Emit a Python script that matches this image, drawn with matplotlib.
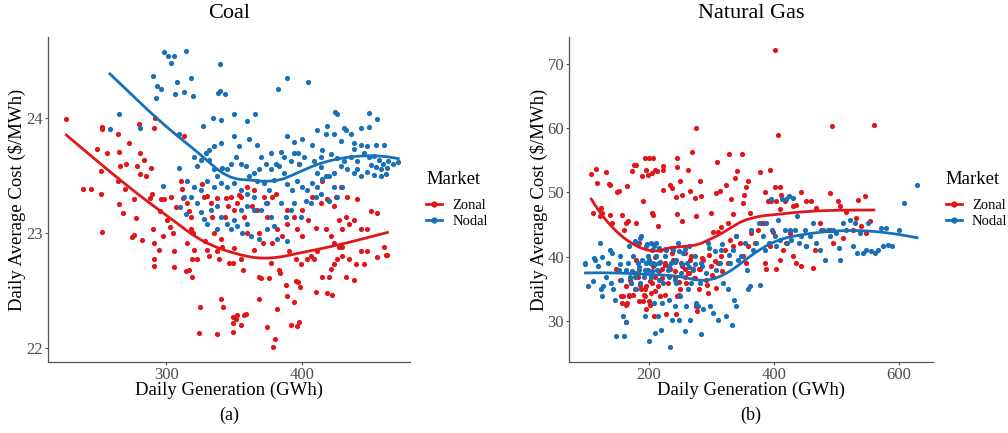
import matplotlib
matplotlib.use("Agg")
import matplotlib.pyplot as plt
from matplotlib.lines import Line2D
import numpy as np

# (GWh, $/MWh) points, per panel and market
coal_zonal = [
    (226.5, 23.99), (252.4, 23.90), (253.0, 23.92), (249.0, 23.73), (256.6, 23.69),
    (238.5, 23.38), (244.4, 23.38), (252.0, 23.34), (251.7, 23.54), (253.0, 23.01),
    (265.4, 23.70), (264.4, 23.86), (272.5, 23.78), (279.9, 23.94), (290.9, 23.91),
    (291.7, 24.00), (270.0, 23.60), (265.6, 23.58), (264.4, 23.45), (269.4, 23.38),
    (265.4, 23.25), (267.9, 23.17), (276.2, 23.29), (281.0, 23.51), (283.6, 23.63),
    (280.6, 23.69), (278.7, 23.58), (285.3, 23.49), (289.0, 23.56), (289.7, 23.34),
    (288.0, 23.30), (277.5, 23.13), (276.5, 22.98), (274.8, 22.96), (282.4, 22.94),
    (290.4, 23.03), (290.9, 22.91), (290.9, 22.77), (290.9, 22.71), (295.8, 23.29),
    (298.3, 23.29), (297.3, 22.97), (294.9, 22.85), (295.3, 23.19), (300.7, 23.11),
    (302.7, 23.05), (305.2, 23.00), (305.6, 22.84), (303.2, 23.31), (306.9, 23.22),
    (310.5, 23.45), (311.7, 23.38), (313.0, 23.84), (312.5, 23.30), (315.4, 23.26),
    (316.7, 23.19), (318.4, 23.14), (318.0, 23.03), (319.6, 23.00), (315.4, 22.91),
    (320.3, 22.85), (319.1, 22.77), (316.7, 22.68), (314.2, 22.67), (318.6, 22.62),
    (305.6, 22.70), (322.8, 22.77), (324.8, 22.36), (324.3, 22.13), (327.7, 23.31),
    (326.5, 23.42), (328.4, 22.93), (329.7, 22.85), (331.4, 22.80), (332.6, 23.26),
    (333.8, 23.14), (335.0, 23.00), (337.5, 22.84), (338.7, 22.77), (339.9, 22.95),
    (341.2, 22.88), (339.9, 22.43), (341.7, 22.36), (337.0, 22.12), (342.9, 23.14),
    (343.6, 23.30), (347.3, 23.31), (345.3, 23.23), (350.0, 23.20), (350.0, 22.87),
    (346.1, 22.74), (349.3, 22.74), (354.7, 22.77), (356.6, 22.68), (349.0, 22.27),
    (351.0, 22.25), (352.2, 22.29), (349.3, 22.22), (354.7, 22.20), (349.3, 22.14),
    (357.4, 22.29), (358.9, 22.30), (352.2, 23.26), (353.4, 23.33), (357.1, 23.14),
    (359.6, 23.00), (363.2, 23.23), (364.5, 22.85), (368.1, 22.62), (369.9, 22.61),
    (367.9, 22.43), (374.3, 22.18), (375.5, 22.61), (377.2, 22.74), (377.9, 22.91),
    (379.7, 22.08), (378.7, 22.01), (381.6, 22.34), (382.8, 22.68), (383.6, 22.65),
    (388.0, 22.55), (389.0, 22.45), (390.2, 22.84), (391.4, 22.20), (395.8, 22.19),
    (397.5, 22.23), (393.9, 22.40), (395.0, 22.58), (396.8, 22.57), (398.3, 22.53),
    (395.0, 22.77), (398.8, 22.73), (400.0, 22.97), (403.2, 22.77), (406.1, 22.80),
    (408.6, 22.77), (409.8, 22.49), (411.0, 22.84), (414.7, 22.62), (418.4, 22.48),
    (419.6, 22.62), (422.0, 22.46), (420.8, 22.69), (423.3, 22.73), (425.7, 22.77),
    (426.9, 22.88), (429.4, 22.80), (431.9, 22.62), (434.3, 22.77), (438.0, 22.59),
    (439.2, 22.73), (442.9, 22.84), (445.3, 22.73), (447.8, 22.84), (455.1, 22.79),
    (461.2, 22.81), (377.9, 23.31), (389.0, 23.20), (393.9, 23.14), (404.0, 23.11),
    (407.4, 23.31), (409.8, 23.04), (413.5, 23.26), (414.7, 23.45), (417.2, 23.03),
    (418.4, 23.29), (423.3, 23.23), (424.5, 23.31), (426.9, 23.11), (428.2, 23.40),
    (429.4, 23.03), (431.9, 23.14), (433.1, 23.31), (434.3, 23.08), (438.0, 23.11),
    (440.4, 23.29), (442.9, 23.03), (447.8, 23.03), (450.2, 23.19), (455.1, 23.17),
    (460.0, 22.88), (462.5, 22.81), (420.8, 22.97), (423.3, 22.91), (429.4, 22.88),
    (330.1, 23.32), (337.5, 23.30), (354.7, 23.31), (359.6, 23.40), (364.5, 23.37),
    (371.8, 23.31), (374.3, 23.26), (366.9, 23.20), (374.3, 23.14), (380.6, 23.34),
    (368.4, 23.00), (370.8, 22.91), (381.6, 23.03), (389.0, 23.08), (385.3, 22.97),
    (396.1, 23.03), (400.0, 23.20), (397.5, 23.60),
]

coal_nodal = [
    (298.3, 24.57), (301.5, 24.53), (303.2, 24.47), (305.6, 24.53), (314.7, 24.58),
    (339.5, 24.46), (290.4, 24.36), (293.4, 24.27), (295.8, 24.25), (292.6, 24.17),
    (307.6, 24.31), (306.6, 24.20), (312.7, 24.22), (318.1, 24.34), (319.8, 24.19),
    (337.7, 24.21), (339.2, 24.23), (343.1, 24.20), (382.4, 24.25), (389.0, 24.34),
    (404.2, 24.31), (265.4, 24.03), (258.5, 23.90), (280.6, 23.91), (309.1, 23.86),
    (326.7, 23.93), (334.1, 24.00), (340.2, 23.98), (350.0, 24.03), (359.6, 23.97),
    (365.0, 24.03), (297.3, 23.41), (309.3, 23.56), (313.0, 23.31),
    (423.8, 24.05), (425.5, 24.03), (449.0, 24.04), (454.6, 23.99), (418.4, 23.93),
    (430.6, 23.91), (431.9, 23.89), (442.9, 23.91), (449.0, 23.92), (410.5, 23.89),
    (417.2, 23.86), (423.3, 23.86), (435.5, 23.86), (428.2, 23.80), (438.0, 23.78),
    (442.9, 23.76), (447.8, 23.75), (453.9, 23.76), (460.0, 23.76), (438.0, 23.73),
    (407.4, 23.76), (414.7, 23.72), (399.8, 23.81), (393.6, 23.79), (389.0, 23.84),
    (396.6, 23.69), (401.5, 23.66), (408.6, 23.62), (413.5, 23.66), (420.8, 23.68),
    (425.7, 23.65), (430.6, 23.62), (435.5, 23.66), (440.4, 23.62), (445.3, 23.69),
    (449.0, 23.66), (452.5, 23.67), (456.0, 23.63), (459.6, 23.60), (463.2, 23.62),
    (466.9, 23.60), (470.5, 23.61), (450.2, 23.59), (453.9, 23.57), (457.5, 23.55),
    (462.5, 23.56), (447.8, 23.53), (452.7, 23.50), (457.5, 23.49), (461.2, 23.51),
    (440.4, 23.55), (442.9, 23.49), (438.0, 23.52), (433.1, 23.55), (428.2, 23.58),
    (423.3, 23.52), (419.6, 23.49), (414.7, 23.47), (411.0, 23.52), (407.4, 23.43),
    (411.0, 23.40), (413.5, 23.34), (409.8, 23.31), (406.1, 23.26), (403.7, 23.37),
    (402.5, 23.28), (400.0, 23.40), (396.3, 23.45), (392.6, 23.37), (389.0, 23.42),
    (386.5, 23.52), (382.8, 23.58), (379.2, 23.46), (376.7, 23.55), (373.0, 23.60),
    (369.4, 23.66), (368.1, 23.55), (366.9, 23.45), (364.5, 23.52), (360.8, 23.49),
    (358.3, 23.58), (354.7, 23.60), (351.0, 23.66), (347.3, 23.60), (344.9, 23.55),
    (341.2, 23.56), (337.5, 23.49), (335.0, 23.55), (331.4, 23.63), (329.0, 23.69),
    (325.2, 23.63), (322.8, 23.58), (320.3, 23.66), (330.1, 23.45), (335.0, 23.40),
    (339.9, 23.43), (344.9, 23.40), (349.8, 23.43), (354.7, 23.37), (359.6, 23.34),
    (364.5, 23.31), (371.8, 23.43), (375.5, 23.37), (373.0, 23.26), (369.4, 23.20),
    (364.5, 23.20), (359.6, 23.23), (354.7, 23.20), (349.8, 23.11), (344.9, 23.08),
    (347.3, 23.03), (352.2, 23.06), (355.9, 23.00), (339.9, 23.14), (337.5, 23.23),
    (332.6, 23.20), (330.1, 23.08), (367.9, 22.95), (374.3, 23.03), (379.2, 23.06),
    (381.6, 22.95), (387.8, 23.14), (391.4, 23.20), (393.9, 23.26), (398.8, 23.14),
    (388.9, 22.93), (376.7, 23.14), (384.0, 23.26), (315.4, 23.45), (320.3, 23.40),
    (325.2, 23.37), (322.8, 23.26), (318.1, 23.31), (309.8, 23.22), (314.2, 23.16),
    (325.2, 23.18), (327.7, 23.12), (337.5, 23.03), (359.6, 23.08), (362.0, 22.97),
    (380.6, 23.60), (386.5, 23.66), (391.4, 23.62), (397.5, 23.60), (423.3, 23.40),
    (425.7, 23.31), (429.4, 23.40), (413.5, 23.57), (419.6, 23.28), (417.2, 23.49),
    (349.8, 23.84), (353.4, 23.75), (360.8, 23.81), (366.9, 23.76), (339.9, 23.78),
    (335.0, 23.75), (331.4, 23.72), (376.7, 23.69), (384.0, 23.70), (393.9, 23.69),
]

gas_zonal = [
    (108.2, 52.9), (115.1, 53.7), (116.7, 51.5), (110.8, 46.8), (124.2, 47.6),
    (125.8, 46.8), (121.5, 46.3), (132.2, 53.1), (135.9, 51.3), (137.5, 51.1),
    (137.5, 46.5), (141.8, 45.3), (149.3, 50.0), (152.0, 50.2), (165.3, 51.0),
    (157.8, 46.5), (160.0, 44.2), (163.2, 45.2), (166.4, 45.5), (179.2, 45.3),
    (173.9, 53.3), (176.6, 54.3), (179.2, 54.3), (189.9, 52.6), (196.3, 53.5),
    (194.2, 55.3), (200.1, 55.3), (207.0, 55.3), (198.3, 52.7), (204.7, 53.0),
    (210.0, 53.5), (212.7, 53.3), (222.4, 54.1), (223.5, 53.5), (190.9, 48.6),
    (204.7, 46.8), (207.4, 46.5), (214.3, 44.7), (223.5, 50.3), (234.2, 51.2),
    (236.9, 50.6), (244.9, 55.3), (244.9, 54.0), (250.2, 51.7), (252.9, 49.6),
    (244.3, 49.3), (244.9, 46.6), (252.9, 45.5), (269.0, 56.2), (262.7, 53.5),
    (265.9, 50.2), (274.8, 49.1), (276.3, 60.0), (281.7, 51.7), (284.3, 49.4),
    (276.3, 46.3), (300.4, 46.8), (308.4, 49.9), (313.7, 50.2), (309.4, 54.7),
    (323.3, 51.2), (328.1, 56.0), (332.4, 49.0), (335.1, 46.7), (327.1, 45.3),
    (316.4, 44.6), (303.0, 43.9), (311.1, 43.8), (337.7, 52.2), (341.5, 53.3),
    (350.0, 55.9), (351.1, 48.3), (356.4, 50.9), (359.1, 51.7), (352.1, 49.6),
    (361.8, 46.8), (378.9, 53.1), (385.8, 50.0), (383.2, 45.2), (395.0, 53.4),
    (401.8, 72.1), (407.2, 58.9), (403.0, 50.9), (409.8, 50.9), (391.1, 48.6),
    (396.4, 48.6), (404.4, 48.6), (412.5, 49.6), (417.8, 48.7), (409.8, 47.4),
    (431.2, 47.9), (436.5, 48.1), (444.5, 50.0), (451.5, 48.6), (460.5, 48.6),
    (467.5, 47.6), (494.2, 60.3), (490.0, 49.9), (503.8, 48.6), (535.3, 48.8),
    (546.0, 49.4), (560.4, 60.5), (553.9, 45.5), (548.5, 43.7), (532.6, 46.0),
    (516.6, 47.0), (505.9, 47.8), (490.0, 44.2), (474.0, 45.2),
    (148.2, 38.0), (153.6, 36.4), (158.9, 33.8), (163.2, 32.5), (163.2, 29.9),
    (168.5, 33.8), (172.3, 35.9), (177.6, 37.5), (180.3, 39.5), (184.5, 42.1),
    (188.3, 34.9), (190.9, 33.1), (193.6, 33.8), (196.3, 35.4), (201.6, 36.2),
    (204.3, 34.4), (207.0, 38.5), (209.7, 36.9), (212.3, 40.1), (215.0, 35.4),
    (217.6, 33.8), (221.9, 38.0), (225.6, 39.0), (228.3, 31.0), (231.0, 35.9),
    (233.6, 38.0), (239.0, 39.5), (241.6, 36.9), (245.9, 33.8), (244.4, 31.0),
    (249.7, 34.9), (252.3, 39.0), (257.7, 38.0), (260.3, 35.9), (263.0, 37.5),
    (265.7, 39.5), (268.3, 40.1), (271.0, 38.0), (273.7, 36.7), (276.3, 32.3),
    (280.1, 34.9), (281.7, 38.0), (287.0, 39.5), (291.3, 36.4), (295.0, 34.4),
    (300.4, 38.5), (303.0, 36.9), (308.4, 35.1), (311.1, 39.0), (316.4, 40.1),
    (321.7, 41.1), (327.1, 39.0), (329.7, 42.6), (335.1, 41.6), (340.4, 43.2),
    (345.8, 42.1), (351.1, 40.1), (356.4, 39.0), (359.1, 41.6), (364.4, 43.7),
    (369.8, 42.1), (375.1, 44.2), (380.4, 45.2), (385.8, 39.0), (388.5, 38.0),
    (393.8, 41.6), (399.1, 43.9), (404.4, 38.0), (409.8, 39.5), (415.2, 41.1),
    (420.5, 42.1), (425.8, 43.7), (431.2, 40.1), (436.5, 39.0), (444.5, 38.5),
    (452.5, 41.6), (463.2, 38.2), (465.8, 41.1), (479.2, 44.2), (495.2, 42.1),
    (511.2, 42.9), (527.3, 44.2), (540.6, 44.7), (182.9, 36.9), (174.9, 34.1),
    (196.3, 31.8), (208.6, 30.7), (164.2, 35.4), (156.2, 33.8),
    (186.6, 35.6), (192.0, 34.1), (200.0, 33.1), (194.7, 34.9), (205.3, 35.9),
    (184.0, 33.1), (202.7, 32.5), (210.7, 34.6), (221.4, 36.7), (232.0, 38.2),
    (242.7, 37.7), (253.4, 38.5), (264.0, 37.4), (272.1, 36.7), (280.1, 38.0),
    (258.7, 36.9), (248.0, 36.1), (226.7, 38.7), (216.0, 37.7), (170.6, 36.4),
    (178.6, 34.9), (168.0, 34.1), (157.3, 32.8), (165.3, 32.8), (226.7, 34.1),
    (248.0, 34.1), (277.4, 31.5), (293.4, 35.6), (301.4, 37.1), (306.8, 39.3),
    (317.5, 37.7), (285.4, 39.8), (296.1, 40.3), (258.7, 40.6), (237.4, 40.6),
    (210.7, 40.0),
]

gas_nodal = [
    (98.6, 38.8), (102.8, 35.4), (110.8, 36.2), (113.5, 39.5), (118.8, 38.5),
    (121.5, 42.1), (124.2, 34.9), (125.8, 33.8), (126.9, 35.4), (132.2, 36.9),
    (134.9, 39.0), (137.5, 41.1), (140.2, 35.9), (142.9, 34.9), (145.5, 33.3),
    (148.2, 27.6), (152.5, 37.9), (154.6, 40.1), (156.2, 36.4), (158.9, 30.7),
    (160.0, 27.6), (163.2, 29.9), (164.2, 37.9), (166.9, 39.0), (168.5, 41.6),
    (169.6, 36.9), (172.3, 35.9), (174.9, 40.1), (177.6, 36.9), (180.3, 34.9),
    (181.3, 42.1), (182.9, 39.0), (184.5, 37.9), (185.6, 35.9), (188.3, 43.2),
    (189.9, 39.5), (192.0, 36.9), (193.6, 30.7), (195.2, 39.0), (196.3, 41.6),
    (198.3, 37.9), (199.5, 40.1), (200.5, 26.8), (201.6, 39.0), (203.2, 42.1),
    (204.3, 36.9), (205.9, 41.1), (207.0, 39.0), (208.6, 32.8), (209.7, 28.1),
    (211.2, 40.1), (212.3, 42.1), (213.9, 37.9), (215.0, 30.7), (216.6, 39.0),
    (217.7, 41.1), (220.4, 28.6), (221.9, 32.8), (223.1, 35.9), (225.6, 40.1),
    (228.3, 41.1), (231.0, 37.9), (232.6, 33.3), (234.7, 26.0), (236.3, 39.0),
    (237.9, 30.2), (239.0, 41.1), (241.6, 32.3), (243.2, 35.9), (244.4, 39.5),
    (247.0, 42.1), (248.6, 30.2), (249.7, 33.8), (252.3, 37.5), (255.0, 40.6),
    (257.7, 28.4), (259.3, 32.3), (261.4, 39.0), (263.0, 34.9), (264.6, 41.6),
    (266.7, 30.2), (268.3, 35.9), (271.0, 37.9), (273.7, 40.1), (276.3, 32.8),
    (279.0, 32.3), (281.7, 35.9), (283.3, 27.9), (284.3, 39.0), (287.0, 31.8),
    (291.3, 37.5), (295.0, 42.1), (298.8, 32.3), (303.0, 31.2), (307.3, 37.9),
    (311.1, 30.2), (313.7, 39.0), (316.4, 41.1), (319.1, 35.9), (324.4, 30.7),
    (327.1, 34.9), (329.7, 39.0), (333.9, 29.4), (336.7, 33.3), (339.3, 32.3),
    (335.1, 41.1), (340.4, 43.2), (343.1, 39.5), (348.4, 40.1), (353.8, 42.1),
    (357.5, 37.9), (359.1, 34.9), (362.8, 35.4), (364.4, 44.2), (367.1, 41.1),
    (372.4, 42.1), (376.7, 45.2), (378.8, 35.6), (383.2, 43.2), (385.8, 41.1),
    (388.5, 45.2), (392.7, 42.1), (396.4, 48.9), (398.1, 44.2), (401.8, 43.2),
    (404.4, 41.6), (407.2, 45.7), (409.8, 42.6), (414.1, 48.9), (417.8, 44.2),
    (420.5, 48.9), (421.6, 42.1), (424.8, 49.4), (425.8, 44.2), (428.5, 42.6),
    (431.2, 49.1), (433.8, 44.2), (437.6, 46.3), (440.8, 42.1), (444.5, 43.2),
    (449.9, 44.2), (452.5, 41.6), (457.8, 43.2), (463.2, 45.2), (468.5, 42.1),
    (473.8, 41.1), (476.5, 44.2), (481.9, 39.5), (487.2, 44.2), (489.8, 43.2),
    (495.2, 44.2), (500.5, 43.7), (504.8, 41.3), (506.9, 39.5), (511.2, 45.2),
    (516.6, 44.2), (521.9, 45.7), (527.3, 41.6), (529.9, 45.2), (533.6, 40.6),
    (537.9, 43.7), (543.3, 40.6), (548.6, 41.1), (551.2, 45.2), (556.5, 40.9),
    (561.9, 40.6), (567.2, 41.1), (572.5, 44.5), (575.2, 41.6), (580.5, 44.5),
    (583.2, 41.8), (590.1, 41.6), (600.7, 44.2), (608.2, 48.3), (629.5, 51.2),
    (178.6, 42.4), (186.6, 42.9), (197.3, 41.9), (208.0, 41.7), (216.0, 41.4),
    (226.7, 41.2), (237.4, 41.4), (248.0, 40.9), (258.7, 41.2), (199.9, 39.4),
    (210.7, 38.9), (218.7, 39.1), (232.0, 38.6), (242.7, 39.1), (253.4, 38.9),
    (264.0, 38.4), (274.7, 38.9), (285.4, 38.6), (205.3, 37.7), (194.7, 37.9),
    (184.0, 38.4), (173.3, 37.7), (232.0, 36.9), (242.7, 36.4), (216.0, 36.4),
    (154.6, 38.9), (141.3, 40.6), (125.3, 40.0), (112.0, 39.8), (98.6, 39.0),
    (296.1, 41.4), (306.8, 40.9), (317.5, 41.9), (328.1, 40.3),
]

markets = ["Zonal", "Nodal"]
colors = {"Zonal": "#E0161B", "Nodal": "#1770B8"}

panels = [
    ("Coal", {"Zonal": coal_zonal, "Nodal": coal_nodal}, (213, 479), (21.88, 24.70),
     [300, 400], [22, 23, 24], "(a)", 1.045),
    ("Natural Gas", {"Zonal": gas_zonal, "Nodal": gas_nodal}, (72.5, 655), (23.6, 74.2),
     [200, 400, 600], [30, 40, 50, 60, 70], "(b)", 1.035),
]


def loess(x, y, span=0.75, n=100):
    """Local quadratic fit with tricube weights (like R's loess default)."""
    order = np.argsort(x)
    x, y = x[order], y[order]
    xs = np.linspace(x.min(), x.max(), n)
    k = int(np.ceil(span * len(x)))
    fit = []
    for x0 in xs:
        d = np.abs(x - x0)
        h = np.sort(d)[k - 1]
        w = np.clip(1 - (d / h) ** 3, 0, None) ** 3
        X = np.column_stack([np.ones_like(x), x - x0, (x - x0) ** 2])
        sw = np.sqrt(w)
        beta = np.linalg.lstsq(X * sw[:, None], y * sw, rcond=None)[0]
        fit.append(beta[0])
    return xs, np.array(fit)


plt.rcParams["font.family"] = ["Liberation Serif", "DejaVu Serif"]

fig = plt.figure(figsize=(10.08, 4.33), dpi=100)
ax_rects = [[0.0476, 0.164, 0.359, 0.751], [0.5645, 0.164, 0.361, 0.751]]

for rect, (title, series, xlim, ylim, xt, yt, tag, leg_x) in zip(ax_rects, panels):
    ax = fig.add_axes(rect)
    for m in markets:
        pts = np.array(series[m])
        ax.scatter(pts[:, 0], pts[:, 1], s=14, color=colors[m], linewidths=0, zorder=2)
    for m in markets:
        pts = np.array(series[m])
        lx, ly = loess(pts[:, 0], pts[:, 1])
        ax.plot(lx, ly, color=colors[m], lw=2.0, zorder=3)

    ax.set_xlim(*xlim)
    ax.set_ylim(*ylim)
    ax.set_xticks(xt)
    ax.set_yticks(yt)
    for s in ["top", "right"]:
        ax.spines[s].set_visible(False)
    for s in ["left", "bottom"]:
        ax.spines[s].set_color("#555555")
        ax.spines[s].set_linewidth(0.9)
    ax.tick_params(colors="#555555", labelcolor="#4d4d4d", labelsize=12,
                   length=2, pad=1.5)
    ax.text(0.5, 1.071, title, transform=ax.transAxes, ha="center", va="center",
            fontsize=16)
    ax.set_xlabel("Daily Generation (GWh)", fontsize=13.5, labelpad=-1)
    ax.set_ylabel("Daily Average Cost ($/MWh)", fontsize=13.5, labelpad=0)
    ax.text(0.5, -0.163, tag, transform=ax.transAxes, ha="center", va="center",
            fontsize=13)

    handles = [Line2D([0], [0], color=colors[m], lw=2.0, marker="o", markersize=3.5)
               for m in markets]
    leg = ax.legend(handles, markets, title="Market", loc="center left",
                    bbox_to_anchor=(leg_x, 0.5), frameon=False, fontsize=10.5,
                    title_fontsize=13.5, handlelength=1.1, handletextpad=0.7,
                    labelspacing=0.15, borderpad=0, borderaxespad=0)
    leg._legend_box.align = "left"
    leg._legend_box.sep = 8

fig.savefig("out.png", dpi=100)
